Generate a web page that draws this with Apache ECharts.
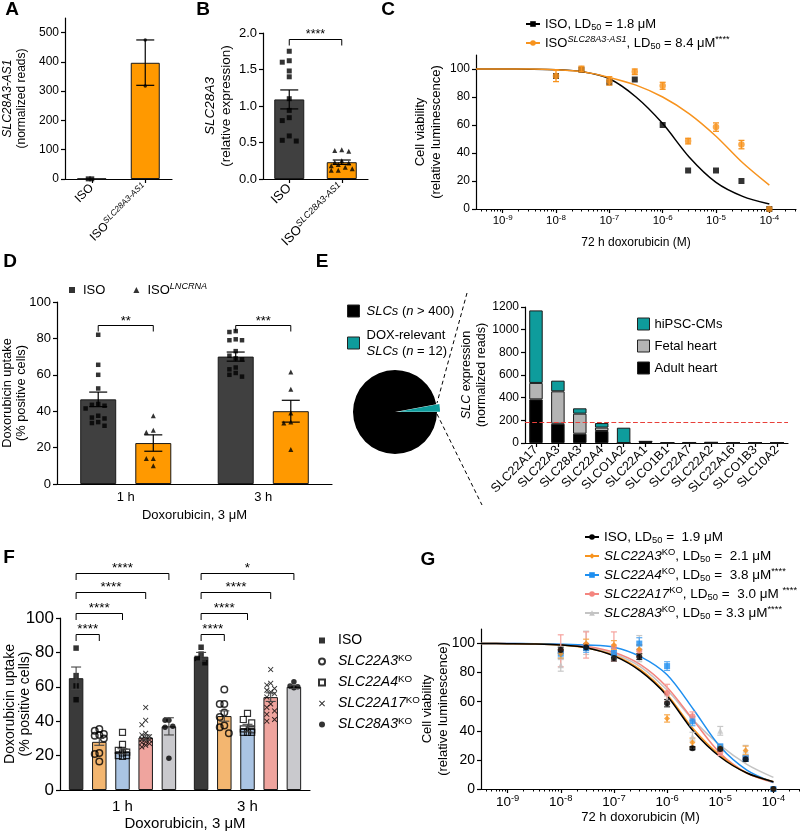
<!DOCTYPE html>
<html>
<head>
<meta charset="utf-8">
<script src="https://cdn.jsdelivr.net/npm/echarts@6.0.0/dist/echarts.min.js"></script>
<style>
html,body{margin:0;padding:0;background:#fff;}
#chart{width:800px;height:832px;}
</style>
</head>
<body>
<div id="chart"></div>
<script>
// ================= DATA =================
// ---- Panel A ----
const aCats = ['ISO', 'ISO{supi|SLC28A3-AS1}'];
const aMeans = [1, 397];
const aErrLow = [0, 320];
const aErrHigh = [2, 475];
const aPtsISO = [0.5, 0.5];
const aPtsAS1 = [475, 318];
const aTicks = [0, 100, 200, 300, 400, 500];

// ---- Panel B ----
const bCats = ['ISO', 'ISO{supi|SLC28A3-AS1}'];
const bMeans = [1.09, 0.23];
const bSem = [0.13, 0.03];
const bPtsISO = [1.75, 1.62, 1.60, 1.48, 1.40, 1.10, 0.94, 0.84, 0.80, 0.59, 0.53, 0.52];
const bPtsAS1 = [0.40, 0.39, 0.38, 0.25, 0.23, 0.22, 0.20, 0.18, 0.16, 0.14, 0.12, 0.12];
const bTicks = [0, 0.5, 1.0, 1.5, 2.0];
const bSigY = [1.92];
const bSigLabels = ['****'];

// ---- Panel C ----
const doseConc = [1e-8, 3e-8, 1e-7, 3e-7, 1e-6, 3e-6, 1e-5, 3e-5, 1e-4];
const cISO = [95, 99.5, 90.5, 92.5, 60, 27.5, 27.5, 20, 0];
const cAS1 = [95, 100, 91.5, 98, 88, 48.5, 58.5, 46, 0];
const cAS1Err = [4, 2, 3, 2, 2.5, 2, 3, 3, 0];
const curveConc = [3.1623e-10, 1e-9, 3.1623e-9, 1e-8, 3.1623e-8, 1e-7, 3.1623e-7, 1e-6, 3.1623e-6, 1e-5, 3.1623e-5, 1e-4];
const cFitISO = [100, 100, 99.9, 99.5, 98, 93, 80, 61, 37, 19, 9, 3.5];
const cFitAS1 = [100, 100, 100, 99.5, 98, 94, 88.5, 80, 68, 52, 33, 17];
const xDecades = [1e-9, 1e-8, 1e-7, 1e-6, 1e-5, 1e-4];
const viabTicks = [0, 20, 40, 60, 80, 100];
const cLegendLabels = ['ISO, LD{sub|50} = 1.8 μM', 'ISO{supi|SLC28A3-AS1}, LD{sub|50} = 8.4 μM{sup|****}'];

// ---- Panel D ----
const dCats = ['1 h', '3 h'];
const dMeanISO = [46.5, 70];
const dSemISO = [4, 2.5];
const dMeanLNC = [22.5, 40];
const dSemLNC = [4.5, 6];
const dPtsISO1 = [82, 65.5, 60, 52.5, 44, 43.5, 43, 41.5, 37.5, 36.5, 36, 34, 33.5, 32];
const dPtsISO3 = [84, 83.5, 79.5, 79, 79, 73, 70.5, 69, 68.5, 64, 63, 61, 60, 59];
const dPtsLNC1 = [37.5, 29.5, 28.5, 14, 14, 10];
const dPtsLNC3 = [61.5, 52, 39, 34, 33.5, 19];
const dTicks = [0, 20, 40, 60, 80, 100];
const dSigY = [87.5, 87.5];
const dSigLabels = ['**', '***'];
const dLegendLabels = ['ISO', 'ISO{supi|LNCRNA}'];

// ---- Panel E ----
const eGenes = ['SLC22A17', 'SLC22A3', 'SLC28A3', 'SLC22A4', 'SLCO1A2', 'SLC22A1', 'SLCO1B1', 'SLC22A7', 'SLC22A2', 'SLC22A16', 'SLCO1B3', 'SLC10A2'];
const eAdult = [385, 170, 82, 106, 0, 10, 1, 1, 1, 1, 1, 1];
const eFetal = [145, 286, 177, 30, 0, 3, 0, 3, 4, 0, 0, 0];
const eHipsc = [640, 94, 47, 40, 135, 2, 0, 1, 1, 1, 0, 0];
const eThreshold = 180;
const eTicks = [0, 200, 400, 600, 800, 1000, 1200];
const ePieNames = ['DOX', 'SLCs'];
const ePieValues = [12, 400];
const ePieLegendLabels = ['{i|SLCs} ({i|n} > 400)', 'DOX-relevant\n{i|SLCs} ({i|n} = 12)'];
const eBarLegendLabels = ['hiPSC-CMs', 'Fetal heart', 'Adult heart'];

// ---- Panel F ----
const fCats = ['1 h', '3 h'];
const fMeanISO = [65, 77.5];   const fSemISO = [6.5, 2.5];
const fMeanA3 = [28, 43];      const fSemA3 = [2, 3];
const fMeanA4 = [22.5, 36];    const fSemA4 = [1.5, 2.2];
const fMeanA17 = [30.5, 54];   const fSemA17 = [1.5, 2.5];
const fMean28A3 = [37, 60];    const fSem28A3 = [5, 1];
const fPtsISO1 = [82.5, 66.5, 60.5, 52.5];
const fPtsISO3 = [83, 79, 76.5, 74];
const fPtsA31 = [35.5, 34.5, 32.5, 32, 31.5, 30, 21.5, 21, 16.5];
const fPtsA33 = [58.5, 50, 50, 45, 42.5, 37.5, 36.5, 33];
const fPtsA41 = [33.5, 26.5, 23, 22, 21.5, 20, 20, 19.5];
const fPtsA43 = [44.5, 41, 39, 35.5, 35, 33.5, 33.5, 33.5];
const fPtsA171 = [48, 40.5, 38, 33, 32, 31, 30, 29.5, 29, 28, 27.5, 27, 26, 25];
const fPtsA173 = [70, 62, 61, 59, 58, 57, 56, 54, 50, 48, 46, 44, 41, 40];
const fPts28A31 = [40.5, 40.5, 37, 36.5, 18.5];
const fPts28A33 = [63, 60.5, 60, 59.5];
const fTicks = [0, 20, 40, 60, 80, 100];
const fSigY = [90.5, 103, 115, 126];
const fSig1hLabels = ['****', '****', '****', '****'];
const fSig3hLabels = ['****', '****', '****', '*'];
const fLegendLabels = ['ISO', '{i|SLC22A3}{sup|KO}', '{i|SLC22A4}{sup|KO}', '{i|SLC22A17}{sup|KO}', '{i|SLC28A3}{sup|KO}'];

// ---- Panel G ----
const gISO = [95.5, 97.5, 90, 91, 59, 28, 27.5, 20.5, 0];
const gISOErr = [2, 2, 2, 2, 2.5, 1, 1.5, 1.5, 0];
const gA3 = [93, 100, 99, 96, 48.5, 32, 28, 26.5, 0];
const gA3Err = [3, 3, 3, 3, 2.5, 3, 2, 3, 0];
const gA4 = [93, 97, 93.5, 100, 84.5, 46.5, 29, 21, 0];
const gA4Err = [3, 3, 3, 4, 3, 3, 2, 2, 0];
const gA17 = [95, 99, 98, 95, 66, 50, 25, 21, 0];
const gA17Err = [11, 9, 10, 4, 6, 3, 2, 2, 0];
const g28A3 = [85, 100.5, 92, 96.5, 61, 36, 40, 27, 0];
const g28A3Err = [4, 8, 3, 9, 3, 3, 3, 3, 0];
const gFitISO = [100, 99.9, 99.7, 99, 97, 91.5, 81, 64, 39.5, 22, 11, 5];
const gFitA3 = [100, 99.9, 99.7, 99, 97, 92, 82, 65, 41, 23, 11, 5];
const gFitA4 = [100, 100, 99.9, 99.6, 99, 97.5, 91, 78.5, 54.5, 29, 13, 4.5];
const gFitA17 = [100, 100, 99.8, 99.3, 98, 94, 85.5, 70, 47, 24.5, 11, 4.5];
const gFit28A3 = [100, 99.9, 99.7, 99, 97.5, 93, 84, 68, 47, 30, 17, 8];
const gLegendLabels = [
  'ISO, LD{sub|50} =  1.9 μM',
  '{i|SLC22A3}{sup|KO}, LD{sub|50} =  2.1 μM',
  '{i|SLC22A4}{sup|KO}, LD{sub|50} =  3.8 μM{sup|****}',
  '{i|SLC22A17}{sup|KO}, LD{sub|50} =  3.0 μM {sup|****}',
  '{i|SLC28A3}{sup|KO}, LD{sub|50} = 3.3 μM{sup|****}'
];

// ================= HELPERS =================
const FF = '"Liberation Sans", Arial, Helvetica, sans-serif';
const AXS = {color: '#000', width: 1.2};
const LOGMIN = Math.pow(10, -9.5), LOGMAX = Math.pow(10, -3.5);
const xMinor = [];
for (let e = -10; e <= -4; e++) for (let k = 2; k <= 9; k++) {
  const v = k * Math.pow(10, e);
  if (v > LOGMIN && v < LOGMAX) xMinor.push(v);
}

function richSet(fs) {
  const s = +(fs * 0.7).toFixed(1);
  const lh = Math.round(fs * 1.2);
  const base = {fontFamily: FF, color: '#000'};
  return {
    n: Object.assign({}, base, {fontSize: fs, lineHeight: lh}),
    i: Object.assign({}, base, {fontSize: fs, lineHeight: lh, fontStyle: 'italic'}),
    sup: Object.assign({}, base, {fontSize: s, lineHeight: s, verticalAlign: 'top'}),
    supi: Object.assign({}, base, {fontSize: s, lineHeight: s, verticalAlign: 'top', fontStyle: 'italic'}),
    sub: Object.assign({}, base, {fontSize: s, lineHeight: s, verticalAlign: 'bottom'})
  };
}
function txt(fs, extra) {
  return Object.assign({fontFamily: FF, fontSize: fs, color: '#000', lineHeight: Math.round(fs * 1.2), rich: richSet(fs)}, extra || {});
}
function yVal(gi, min, max, ticks, fs, name, nameGap, nameFs, fmt, nameLh) {
  return {
    type: 'value', gridIndex: gi, min: min, max: max,
    axisLine: {show: true, lineStyle: AXS},
    axisTick: {show: true, length: 4, customValues: ticks, lineStyle: AXS},
    axisLabel: Object.assign({customValues: ticks, margin: 6, formatter: fmt || (v => String(v))}, txt(fs)),
    splitLine: {show: false},
    name: name, nameLocation: 'middle', nameRotate: 90, nameGap: nameGap, nameMoveOverlap: false,
    nameTextStyle: txt(nameFs, nameLh ? {lineHeight: nameLh} : null)
  };
}
function xCat(gi, data, fs, rotate, margin, showTick, name, nameGap, nameFs) {
  return {
    type: 'category', gridIndex: gi, data: data,
    axisLine: {show: true, lineStyle: AXS},
    axisTick: {show: showTick, alignWithLabel: true, length: 4, lineStyle: AXS},
    axisLabel: Object.assign({interval: 0, rotate: rotate, margin: margin}, txt(fs)),
    splitLine: {show: false},
    name: name, nameLocation: 'middle', nameGap: nameGap, nameMoveOverlap: false, nameTextStyle: txt(nameFs || fs)
  };
}
function xLog(gi, fs, margin, name, nameGap, nameFs) {
  return {
    type: 'log', logBase: 10, gridIndex: gi, min: LOGMIN, max: LOGMAX, position: 'bottom',
    axisLine: {show: true, lineStyle: AXS},
    axisTick: {show: true, length: 4, customValues: xDecades, lineStyle: AXS},
    axisLabel: Object.assign({customValues: xDecades, margin: margin,
      formatter: v => '10{sup|' + Math.round(Math.log10(v)) + '}'}, txt(fs)),
    splitLine: {show: false}, minorTick: {show: false},
    name: name, nameLocation: 'middle', nameGap: nameGap, nameMoveOverlap: false, nameTextStyle: txt(nameFs)
  };
}
function xLogMinor(gi) {
  return {
    type: 'log', logBase: 10, gridIndex: gi, min: LOGMIN, max: LOGMAX, position: 'bottom',
    axisLine: {show: false}, axisLabel: {show: false}, splitLine: {show: false},
    axisTick: {show: true, length: 2.5, customValues: xMinor, lineStyle: {color: '#000', width: 1}}
  };
}
function mkOff(n, bw, gap) { const step = bw * (1 + gap); return i => (i - (n - 1) / 2) * step; }

// deterministic beeswarm: spreads overlapping points sideways, limited to +/- maxOff px
function swarm(vals, ppu, size, maxOff) {
  const placed = [];
  const step = Math.max(1.5, size * 0.7);
  const cands = [0];
  for (let j = 1; j * step <= maxOff + 0.01; j++) cands.push(-j * step, j * step);
  const thr = size * 1.15;
  return vals.map(v => {
    const y = v * ppu;
    let best = null, bestD = -1;
    for (const c of cands) {
      let minD = Infinity, ok = true;
      for (const p of placed) {
        const dx = p[0] - c, dy = p[1] - y;
        if (Math.abs(dy) < thr && Math.abs(dx) < thr) ok = false;
        minD = Math.min(minD, Math.hypot(dx, dy));
      }
      if (ok) { best = c; bestD = Infinity; break; }
      if (minD > bestD) { bestD = minD; best = c; }
    }
    placed.push([best, y]);
    return best;
  });
}
function dotSeries(name, xi, yi, groups, symbol, size, itemStyle, z) {
  const data = [];
  groups.forEach(g => {
    const offs = swarm(g.vals, g.ppu, size, g.spread);
    g.vals.forEach((v, k) => data.push({value: [g.cat, v], symbolOffset: [g.off + offs[k], 0]}));
  });
  return {type: 'scatter', name: name, xAxisIndex: xi, yAxisIndex: yi, symbol: symbol, symbolSize: size,
    data: data, z: z || 5, silent: true, clip: false, itemStyle: itemStyle || {color: '#000'}};
}
function errSeries(xi, yi, items, off, color, cap, lw, z) {
  return {type: 'custom', xAxisIndex: xi, yAxisIndex: yi, clip: false, silent: true, z: z || 6,
    data: items, encode: {x: 0, y: [1, 2]},
    renderItem: (p, api) => {
      const lo = api.coord([api.value(0), api.value(1)]);
      const hi = api.coord([api.value(0), api.value(2)]);
      const x = lo[0] + off;
      const st = {stroke: color, lineWidth: lw, fill: 'none'};
      return {type: 'group', children: [
        {type: 'line', shape: {x1: x, y1: lo[1], x2: x, y2: hi[1]}, style: st},
        {type: 'line', shape: {x1: x - cap, y1: hi[1], x2: x + cap, y2: hi[1]}, style: st},
        {type: 'line', shape: {x1: x - cap, y1: lo[1], x2: x + cap, y2: lo[1]}, style: st}
      ]};
    }};
}
function bracketSeries(xi, yi, items, labels, off, fs, drop) {
  return {type: 'custom', xAxisIndex: xi, yAxisIndex: yi, clip: false, silent: true, z: 8,
    data: items, encode: {x: 0, y: 1},
    renderItem: (p, api) => {
      const y = api.value(1);
      const pa = api.coord([api.value(0), y]);
      const pb = api.coord([api.value(3), y]);
      const x1 = pa[0] + off(api.value(2)), x2 = pb[0] + off(api.value(4));
      const yy = Math.round(pa[1]) + 0.5;
      return {type: 'group', children: [
        {type: 'polyline', shape: {points: [[x1, yy + drop], [x1, yy], [x2, yy], [x2, yy + drop]]},
          style: {stroke: '#000', lineWidth: 1, fill: 'none'}},
        {type: 'text', x: (x1 + x2) / 2, y: yy + 2,
          style: {text: labels[p.dataIndex], align: 'center', verticalAlign: 'bottom', fontSize: fs, fontFamily: FF, fill: '#000'}}
      ]};
    }};
}
function barSeries(name, xi, yi, data, color, bw, gap, extra) {
  return Object.assign({type: 'bar', name: name, xAxisIndex: xi, yAxisIndex: yi, barWidth: bw, barGap: (gap * 100) + '%',
    data: data, silent: true, z: 2,
    itemStyle: {color: color, borderColor: '#1a1a1a', borderWidth: 1}}, extra || {});
}
const labelOf = {};
function reg(keys, labels) { keys.forEach((k, i) => { labelOf[k] = labels[i]; }); }
const legendFmt = n => labelOf[n] || n;

// ================= BUILD =================
const series = [];
const xAxis = [], yAxis = [];
const G0 = {outerBoundsMode: 'none', containLabel: false};
const grid = [
  Object.assign({left: 65, top: 18, width: 107, height: 161}, G0),   // A
  Object.assign({left: 263, top: 33, width: 105, height: 146}, G0),  // B
  Object.assign({left: 476, top: 55, width: 320, height: 154}, G0),  // C
  Object.assign({left: 57, top: 302, width: 275, height: 182}, G0),  // D
  Object.assign({left: 525, top: 307, width: 263, height: 136}, G0), // E
  Object.assign({left: 60, top: 618, width: 250, height: 172}, G0),  // F
  Object.assign({left: 481, top: 629, width: 319, height: 160}, G0)  // G
];

// ---- A ----
xAxis.push(xCat(0, aCats, 12, 45, 7, true));
yAxis.push(yVal(0, 0, 550, aTicks, 12, '{i|SLC28A3-AS1}\n(normalized reads)', 36, 12));
series.push(barSeries('A_bar', 0, 0, aMeans.map((v, i) => ({value: v, itemStyle: {color: i === 0 ? '#404040' : '#FF9900'}})), '#404040', 29, 0));
series.push(errSeries(0, 0, [[1, aErrLow[1], aErrHigh[1]]], 0, '#000', 9, 1.2));
series.push(dotSeries('A_ISO', 0, 0, [{cat: 0, vals: aPtsISO, off: 0, ppu: 161 / 550, spread: 5}], 'rect', 5));
series.push(dotSeries('A_AS1', 0, 0, [{cat: 1, vals: aPtsAS1, off: 0, ppu: 161 / 550, spread: 0}], 'circle', 3.5));

// ---- B ----
xAxis.push(xCat(1, bCats, 13, 45, 7, true));
yAxis.push(yVal(1, 0, 2, bTicks, 13, '{i|SLC28A3}\n(relative expression)', 29, 13.5, v => v.toFixed(1)));
const offB = mkOff(1, 30, 0);
series.push(barSeries('B_bar', 1, 1, bMeans.map((v, i) => ({value: v, itemStyle: {color: i === 0 ? '#404040' : '#FF9900'}})), '#404040', 30, 0));
series.push(dotSeries('B_ISO', 1, 1, [{cat: 0, vals: bPtsISO, off: 0, ppu: 73, spread: 10}], 'rect', 5));
series.push(dotSeries('B_AS1', 1, 1, [{cat: 1, vals: bPtsAS1, off: 0, ppu: 73, spread: 11}], 'triangle', 5));
series.push(errSeries(1, 1, bMeans.map((m, i) => [i, m - bSem[i], m + bSem[i]]), 0, '#000', 9, 1.2));
series.push(bracketSeries(1, 1, [[0, bSigY[0], 0, 1, 0]], bSigLabels, offB, 12.5, 6));

// ---- C ----
xAxis.push(xLog(2, 11.5, 5, '72 h doxorubicin (M)', 27, 12));
xAxis.push(xLogMinor(2));
yAxis.push(yVal(2, 0, 110, viabTicks, 12, 'Cell viability\n(relative luminescence)', 32, 13));
series.push({type: 'line', name: 'C_ISO', xAxisIndex: 2, yAxisIndex: 2, smooth: 0.3, showSymbol: false, symbol: 'rect', symbolSize: 6,
  data: curveConc.map((c, i) => [c, cFitISO[i]]), lineStyle: {color: '#000', width: 1.5}, itemStyle: {color: '#000'}, z: 3, silent: true});
series.push({type: 'line', name: 'C_AS1', xAxisIndex: 2, yAxisIndex: 2, smooth: 0.3, showSymbol: false, symbol: 'circle', symbolSize: 6,
  data: curveConc.map((c, i) => [c, cFitAS1[i]]), lineStyle: {color: '#F7931E', width: 1.5}, itemStyle: {color: '#F7931E'}, z: 3, silent: true});
series.push({type: 'scatter', name: 'C_ISO_pts', xAxisIndex: 2, yAxisIndex: 2, symbol: 'rect', symbolSize: 6, clip: false, silent: true,
  data: doseConc.map((c, i) => [c, cISO[i]]), itemStyle: {color: '#000'}, z: 4});
series.push(errSeries(2, 2, doseConc.map((c, i) => [c, cAS1[i] - cAS1Err[i], cAS1[i] + cAS1Err[i]]).filter((d, i) => cAS1Err[i] > 0), 0, '#F7931E', 3, 1.3, 5));
series.push({type: 'scatter', name: 'C_AS1_pts', xAxisIndex: 2, yAxisIndex: 2, symbol: 'circle', symbolSize: 6.5, clip: false, silent: true,
  data: doseConc.map((c, i) => [c, cAS1[i]]), itemStyle: {color: '#F7931E'}, z: 6});
reg(['C_ISO', 'C_AS1'], cLegendLabels);

// ---- D ----
xAxis.push(xCat(3, dCats, 13, 0, 5, false, 'Doxorubicin, 3 μM', 23, 13));
yAxis.push(yVal(3, 0, 100, dTicks, 13, 'Doxorubicin uptake\n(% positive cells)', 29, 12.8, null, 14));
const offD = mkOff(2, 36, 0.53);
series.push(barSeries('D_bISO', 4, 3, dMeanISO, '#404040', 36, 0.53));
series.push(barSeries('D_bLNC', 4, 3, dMeanLNC, '#FF9900', 36, 0.53));
series.push(dotSeries('D_ISO', 4, 3, [{cat: 0, vals: dPtsISO1, off: offD(0), ppu: 1.82, spread: 13}, {cat: 1, vals: dPtsISO3, off: offD(0), ppu: 1.82, spread: 13}], 'rect', 4.5));
series.push(dotSeries('D_LNC', 4, 3, [{cat: 0, vals: dPtsLNC1, off: offD(1), ppu: 1.82, spread: 8}, {cat: 1, vals: dPtsLNC3, off: offD(1), ppu: 1.82, spread: 8}], 'triangle', 5));
series.push(errSeries(4, 3, dMeanISO.map((m, i) => [i, m - dSemISO[i], m + dSemISO[i]]), offD(0), '#000', 9, 1.2));
series.push(errSeries(4, 3, dMeanLNC.map((m, i) => [i, m - dSemLNC[i], m + dSemLNC[i]]), offD(1), '#000', 9, 1.2));
series.push(bracketSeries(4, 3, [[0, dSigY[0], 0, 0, 1], [1, dSigY[1], 0, 1, 1]], dSigLabels, offD, 13, 6));
reg(['D_ISO', 'D_LNC'], dLegendLabels);

// ---- E ----
xAxis.push(xCat(4, eGenes, 12.5, 45, 5, true));
yAxis.push(yVal(4, 0, 1200, eTicks, 12, '{i|SLC} expression\n(normalized reads)', 36, 12.5));
const TEAL = '#0E9C9C';
series.push(barSeries('Adult heart', 5, 4, eAdult, '#000000', 13.5, 0, {stack: 'e',
  markLine: {silent: true, symbol: 'none', label: {show: false}, lineStyle: {color: '#E8403A', type: 'dashed', width: 1.2}, data: [{yAxis: eThreshold}]}}));
series.push(barSeries('Fetal heart', 5, 4, eFetal, '#B4B4B4', 13.5, 0, {stack: 'e'}));
series.push(barSeries('hiPSC-CMs', 5, 4, eHipsc, TEAL, 13.5, 0, {stack: 'e'}));
series.push({type: 'pie', name: 'E_pie', center: [395, 412], radius: [0, 42], clockwise: true,
  startAngle: 360 * ePieValues[0] / (ePieValues[0] + ePieValues[1]),
  label: {show: false}, labelLine: {show: false}, selectedMode: 'single', selectedOffset: 3, silent: true,
  data: ePieNames.map((n, i) => ({name: n, value: ePieValues[i], selected: i === 0, itemStyle: {color: i === 0 ? TEAL : '#000'}}))});
reg(['SLCs', 'DOX'], ePieLegendLabels);
reg(['hiPSC-CMs', 'Fetal heart', 'Adult heart'], eBarLegendLabels);

// ---- F ----
xAxis.push(xCat(5, fCats, 15, 0, 8, false, 'Doxorubicin, 3 μM', 25, 15));
yAxis.push(yVal(5, 0, 100, fTicks, 17, 'Doxorubicin uptake\n(% positive cells)', 27, 14, null, 15));
const offF = mkOff(5, 14.5, 0.6);
const fColors = ['#3A3A3A', '#F3B670', '#AAC4E3', '#EFA49E', '#C9C9CD'];
const fMeans = [fMeanISO, fMeanA3, fMeanA4, fMeanA17, fMean28A3];
const fSems = [fSemISO, fSemA3, fSemA4, fSemA17, fSem28A3];
fMeans.forEach((m, k) => series.push(barSeries('F_b' + k, 6, 5, m, fColors[k], 14.5, 0.6)));
const hollow = {color: 'rgba(0,0,0,0)', borderColor: '#000', borderWidth: 1.5};
const xPath = 'path://M0,1.2 L1.2,0 L5,3.8 L8.8,0 L10,1.2 L6.2,5 L10,8.8 L8.8,10 L5,6.2 L1.2,10 L0,8.8 L3.8,5 Z';
const fSp = 6.5;
series.push(dotSeries('F_ISO', 6, 5, [{cat: 0, vals: fPtsISO1, off: offF(0), ppu: 1.72, spread: 4}, {cat: 1, vals: fPtsISO3, off: offF(0), ppu: 1.72, spread: 4}], 'rect', 5.5));
series.push(dotSeries('F_A3', 6, 5, [{cat: 0, vals: fPtsA31, off: offF(1), ppu: 1.72, spread: fSp}, {cat: 1, vals: fPtsA33, off: offF(1), ppu: 1.72, spread: fSp}], 'circle', 6.5, hollow));
series.push(dotSeries('F_A4', 6, 5, [{cat: 0, vals: fPtsA41, off: offF(2), ppu: 1.72, spread: fSp}, {cat: 1, vals: fPtsA43, off: offF(2), ppu: 1.72, spread: fSp}], 'rect', 6, {color: 'rgba(0,0,0,0)', borderColor: '#000', borderWidth: 1.2}));
series.push(dotSeries('F_A17', 6, 5, [{cat: 0, vals: fPtsA171, off: offF(3), ppu: 1.72, spread: fSp}, {cat: 1, vals: fPtsA173, off: offF(3), ppu: 1.72, spread: fSp}], xPath, 5.5));
series.push(dotSeries('F_28A3', 6, 5, [{cat: 0, vals: fPts28A31, off: offF(4), ppu: 1.72, spread: fSp}, {cat: 1, vals: fPts28A33, off: offF(4), ppu: 1.72, spread: fSp}], 'circle', 5.5));
fMeans.forEach((m, k) => series.push(errSeries(6, 5, m.map((v, i) => [i, v - fSems[k][i], v + fSems[k][i]]), offF(k), '#444', 5, 1.1)));
series.push(bracketSeries(6, 5, fSigY.map((y, j) => [0, y, 0, 0, j + 1]), fSig1hLabels, offF, 13.5, 6.5));
series.push(bracketSeries(6, 5, fSigY.map((y, j) => [1, y, 0, 1, j + 1]), fSig3hLabels, offF, 13.5, 6.5));
reg(['F_ISO', 'F_A3', 'F_A4', 'F_A17', 'F_28A3'], fLegendLabels);

// ---- G ----
xAxis.push(xLog(6, 13.5, 5, '72 h doxorubicin (M)', 20, 13));
xAxis.push(xLogMinor(6));
yAxis.push(yVal(6, 0, 110, viabTicks, 14, 'Cell viability\n(relative luminescence)', 30, 13));
const gDefs = [
  {key: 'G_28A3', pts: g28A3, err: g28A3Err, fit: gFit28A3, color: '#C4C4C4', ecolor: '#C8C8C8', symbol: 'triangle'},
  {key: 'G_A17', pts: gA17, err: gA17Err, fit: gFitA17, color: '#F4857F', ecolor: '#F6A29D', symbol: 'circle'},
  {key: 'G_A4', pts: gA4, err: gA4Err, fit: gFitA4, color: '#1E8FF0', ecolor: '#5AAAF2', symbol: 'rect'},
  {key: 'G_A3', pts: gA3, err: gA3Err, fit: gFitA3, color: '#F7931E', ecolor: '#F7A94E', symbol: 'diamond'},
  {key: 'G_ISO', pts: gISO, err: gISOErr, fit: gFitISO, color: '#000000', ecolor: '#333', symbol: 'circle'}
];
gDefs.forEach((d, k) => {
  series.push({type: 'line', name: d.key, xAxisIndex: 7, yAxisIndex: 6, smooth: 0.3, showSymbol: false, symbol: d.symbol, symbolSize: 6,
    data: curveConc.map((c, i) => [c, d.fit[i]]), lineStyle: {color: d.color, width: 1.5}, itemStyle: {color: d.color}, z: 3 + k * 0.01, silent: true});
});
gDefs.forEach((d, k) => {
  series.push(errSeries(7, 6, doseConc.map((c, i) => [c, d.pts[i] - d.err[i], d.pts[i] + d.err[i]]).filter((x, i) => d.err[i] > 0), 0, d.ecolor, 3, 1.2, 4));
  series.push({type: 'scatter', name: d.key + '_pts', xAxisIndex: 7, yAxisIndex: 6, symbol: d.symbol, symbolSize: 6, clip: false, silent: true,
    data: doseConc.map((c, i) => [c, d.pts[i]]), itemStyle: {color: d.color}, z: 5});
});
reg(['G_ISO', 'G_A3', 'G_A4', 'G_A17', 'G_28A3'], gLegendLabels);

// ---- legends ----
const legBase = {orient: 'vertical', padding: 0, selectedMode: false, formatter: legendFmt};
const legend = [
  Object.assign({}, legBase, {left: 525, top: 16, itemGap: 3, itemWidth: 14, itemHeight: 7, data: ['C_ISO', 'C_AS1'], textStyle: txt(13)}),
  Object.assign({}, legBase, {orient: 'horizontal', left: 69, top: 282, itemGap: 28, itemWidth: 6, itemHeight: 6, data: ['D_ISO', 'D_LNC'], textStyle: txt(13, {padding: [0, 0, 0, 3]})}),
  Object.assign({}, legBase, {left: 347, top: 303, itemGap: 8, itemWidth: 12, itemHeight: 12, icon: 'rect', data: ['SLCs', 'DOX'], textStyle: txt(13, {padding: [0, 0, 0, 2]}),
    itemStyle: {borderColor: '#222', borderWidth: 1}}),
  Object.assign({}, legBase, {left: 637, top: 316, itemGap: 6, itemWidth: 12, itemHeight: 12, icon: 'rect', data: ['hiPSC-CMs', 'Fetal heart', 'Adult heart'], textStyle: txt(13),
    itemStyle: {borderColor: '#222', borderWidth: 1}}),
  Object.assign({}, legBase, {left: 318, top: 632, itemGap: 4, itemWidth: 6, itemHeight: 6, data: ['F_ISO', 'F_A3', 'F_A4', 'F_A17', 'F_28A3'], textStyle: txt(14, {padding: [0, 0, 0, 8]})}),
  Object.assign({}, legBase, {left: 584, top: 529, itemGap: 3, itemWidth: 14, itemHeight: 7, data: ['G_ISO', 'G_A3', 'G_A4', 'G_A17', 'G_28A3'], textStyle: txt(13.5)})
];

// ---- panel letters & decorations ----
const panelLetters = [['A', 12, 10], ['B', 203, 10], ['C', 388, 10], ['D', 10, 262], ['E', 322, 262], ['F', 9, 558], ['G', 428, 560]];
const graphic = panelLetters.map(p => ({type: 'text', x: p[1], y: p[2], silent: true,
  style: {text: p[0], fontSize: 19, fontWeight: 'bold', fontFamily: FF, fill: '#000', align: 'center', verticalAlign: 'middle'}}));
graphic.push({type: 'line', silent: true, shape: {x1: 467, y1: 293, x2: 437, y2: 403}, style: {stroke: '#000', lineWidth: 1, lineDash: [4, 3]}});
graphic.push({type: 'line', silent: true, shape: {x1: 437, y1: 414, x2: 482, y2: 505}, style: {stroke: '#000', lineWidth: 1, lineDash: [4, 3]}});

const chart = echarts.init(document.getElementById('chart'), null, {renderer: 'canvas'});
chart.setOption({
  animation: false,
  backgroundColor: '#fff',
  textStyle: {fontFamily: FF},
  grid: grid, xAxis: xAxis, yAxis: yAxis, series: series, legend: legend, graphic: graphic
});
</script>
</body>
</html>
